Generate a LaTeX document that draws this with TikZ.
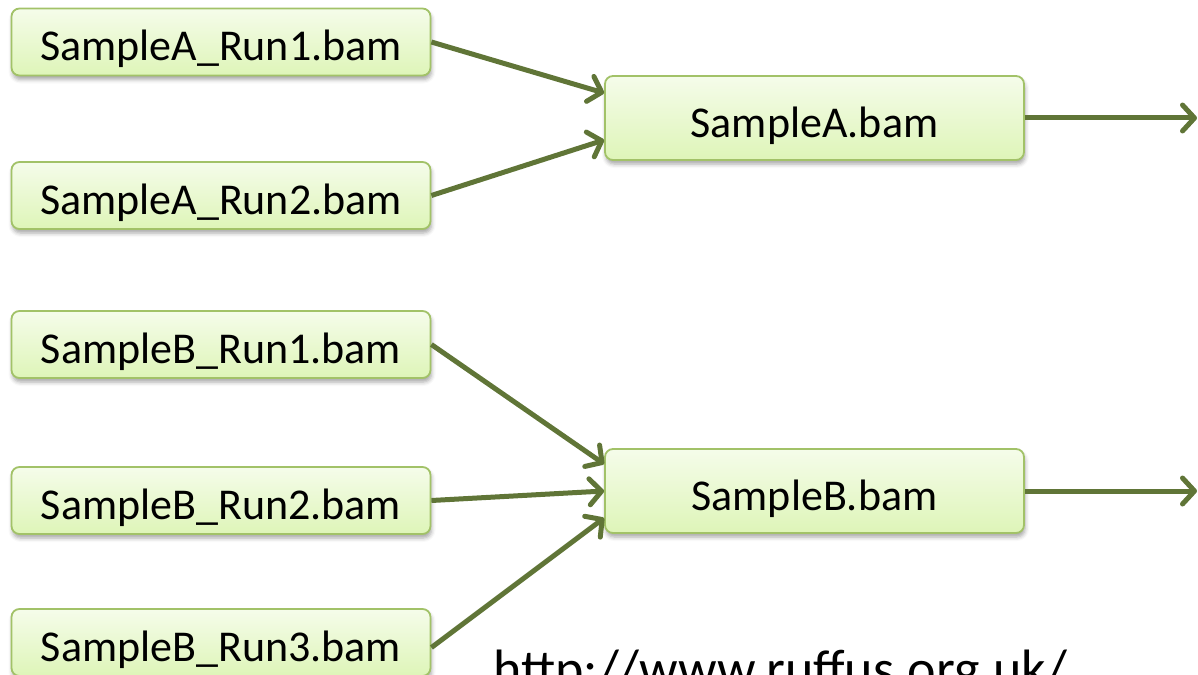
\documentclass[tikz,border=0pt]{standalone}
\usepackage{fontspec}
\setmainfont{Carlito}
\usetikzlibrary{arrows.meta,shadows.blur}
\definecolor{boxborder}{RGB}{162,194,104}
\definecolor{boxtop}{RGB}{245,252,234}
\definecolor{boxbot}{RGB}{222,245,184}
\definecolor{arrowcol}{RGB}{96,117,55}
\begin{document}
\begin{tikzpicture}[x=1pt,y=-1pt,
  filebox/.style={draw=boxborder, line width=1.8pt, rounded corners=8pt,
    top color=boxtop, bottom color=boxbot, minimum width=419pt, inner sep=0pt,
    text height=38pt, text depth=0pt,
    font=\fontsize{44}{52}\selectfont,
    blur shadow={shadow xshift=1pt, shadow yshift=-4pt, shadow blur radius=4pt, shadow opacity=35}},
  smallbox/.style={filebox, minimum height=67pt},
  bigbox/.style={filebox, minimum height=84pt},
  flow/.style={draw=arrowcol, line width=5pt,
    -{Straight Barb[length=12pt,width=26pt,round]}},
  urltext/.style={font=\fontsize{54}{60}\selectfont, anchor=base west, inner sep=0pt}]
\useasboundingbox (0,0) rectangle (1198,674);
\clip (0,0) rectangle (1198,674);
\node[smallbox] (a1) at (221,42) {SampleA\_Run1.bam};
\node[smallbox] (a2) at (221,195.5) {SampleA\_Run2.bam};
\node[bigbox] (sa) at (814.5,118) {SampleA.bam};
\node[smallbox] (b1) at (221,344.5) {SampleB\_Run1.bam};
\node[smallbox] (b2) at (221,500.5) {SampleB\_Run2.bam};
\node[smallbox] (b3) at (221,642.5) {SampleB\_Run3.bam};
\node[bigbox] (sb) at (814.5,491) {SampleB.bam};
\coordinate (ea) at (1197,118);
\coordinate (eb) at (1197,491);
\node[urltext] (url) at (493,687) {http://www.ruffus.org.uk/};
\draw[flow] (a1.east) -- ([yshift=25pt]sa.west);
\draw[flow] (a2.east) -- ([yshift=-22pt]sa.west);
\draw[flow] (sa.east) -- (ea);
\draw[flow] (b1.east) -- ([yshift=27pt]sb.west);
\draw[flow] (b2.east) -- (sb.west);
\draw[flow] ([yshift=-5pt]b3.east) -- ([yshift=-27pt]sb.west);
\draw[flow] (sb.east) -- (eb);
\end{tikzpicture}
\end{document}
